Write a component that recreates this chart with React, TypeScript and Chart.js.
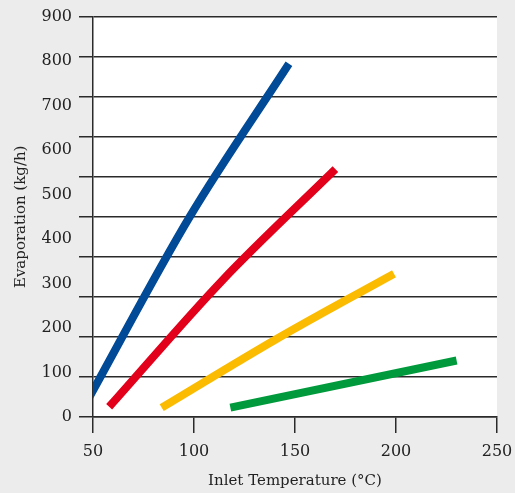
import React, { useEffect, useRef } from 'react';
import { Chart, registerables } from 'chart.js';

Chart.register(...registerables);

// Inlet temperature (°C) / evaporation (kg/h) per curve
const blueTemp = [47, 98, 147];
const blueEvap = [35, 451, 794];
const redTemp = [58, 114, 170];
const redEvap = [23, 307, 557];
const yellowTemp = [84, 141.5, 199];
const yellowEvap = [21, 177, 322];
const greenTemp = [118, 230];
const greenEvap = [21, 127];

const xTickValues = [50, 100, 150, 200, 250];
const yTickValues = [0, 100, 200, 300, 400, 500, 600, 700, 800, 900];
const gridValues = [0, 90, 180, 270, 360, 450, 540, 630, 720, 810, 900];

const xTitle = 'Inlet Temperature (°C)';
const yTitle = 'Evaporation (kg/h)';

const FONT = "'DejaVu Serif', 'Liberation Serif', serif";
const INK = '#222222';
const LINE = '#2a2a2a';

const pts = (xs: number[], ys: number[]) => xs.map((x, i) => ({ x, y: ys[i] }));

const bgPlugin = {
  id: 'bgPlugin',
  beforeDraw(chart: any) {
    const { ctx, chartArea: a, width, height } = chart;
    ctx.save();
    ctx.fillStyle = '#ebeceb';
    ctx.fillRect(0, 0, width, height);
    ctx.fillStyle = '#ffffff';
    ctx.fillRect(a.left, a.top, a.right - a.left, a.bottom - a.top);
    ctx.restore();
  },
};

export default function App() {
  const ref = useRef<HTMLCanvasElement | null>(null);

  useEffect(() => {
    document.body.style.margin = '0';
    if (!ref.current) return;
    const mk = (label: string, xs: number[], ys: number[], color: string) => ({
      label,
      data: pts(xs, ys),
      borderColor: color,
      backgroundColor: color,
      borderWidth: 8,
      borderCapStyle: 'butt' as const,
      pointRadius: 0,
      cubicInterpolationMode: 'monotone' as const,
      clip: 0,
      yAxisID: 'y',
      xAxisID: 'x',
    });
    const chart = new Chart(ref.current, {
      type: 'line',
      data: {
        datasets: [
          mk('blue', blueTemp, blueEvap, '#004a97'),
          mk('red', redTemp, redEvap, '#e2001a'),
          mk('yellow', yellowTemp, yellowEvap, '#fbbb00'),
          mk('green', greenTemp, greenEvap, '#009a3d'),
        ],
      },
      options: {
        responsive: false,
        animation: false,
        devicePixelRatio: 1,
        layout: { padding: { top: 16, right: 18, left: 0, bottom: 0 } },
        plugins: { legend: { display: false }, tooltip: { enabled: false } },
        scales: {
          x: {
            type: 'linear',
            min: 50,
            max: 250,
            afterBuildTicks: (s: any) => {
              s.ticks = xTickValues.map((v) => ({ value: v }));
            },
            afterFit: (s: any) => {
              s.height = 76;
              s.paddingLeft = 0;
              s.paddingRight = 0;
            },
            grid: {
              drawOnChartArea: false,
              drawTicks: true,
              tickLength: 16,
              color: LINE,
              tickColor: LINE,
              lineWidth: 1.5,
            },
            border: { display: true, color: LINE, width: 1.5 },
            ticks: {
              padding: 9,
              color: INK,
              font: { family: FONT, size: 16 },
              maxRotation: 0,
            },
            title: {
              display: true,
              text: xTitle,
              color: INK,
              font: { family: FONT, size: 15 },
              padding: { top: 0, bottom: 3 },
            },
          },
          yGrid: {
            type: 'linear',
            position: 'left',
            weight: 0,
            min: 0,
            max: 900,
            afterBuildTicks: (s: any) => {
              s.ticks = gridValues.map((v) => ({ value: v }));
            },
            afterFit: (s: any) => {
              s.width = 14;
            },
            ticks: { display: false },
            grid: {
              drawTicks: true,
              tickLength: 14,
              color: LINE,
              tickColor: LINE,
              lineWidth: 1.5,
            },
            border: { display: true, color: LINE, width: 1.5 },
          },
          y: {
            type: 'linear',
            position: 'left',
            weight: 1,
            min: 0,
            max: 900,
            afterBuildTicks: (s: any) => {
              s.ticks = yTickValues.map((v) => ({ value: v }));
            },
            afterFit: (s: any) => {
              s.width = 79;
            },
            grid: { display: false, drawTicks: false },
            border: { display: false },
            ticks: {
              padding: 7,
              color: INK,
              font: { family: FONT, size: 16 },
            },
            title: {
              display: true,
              text: yTitle,
              color: INK,
              font: { family: FONT, size: 15 },
              padding: { top: 12, bottom: 0 },
            },
          },
        },
      },
      plugins: [bgPlugin],
    });
    return () => chart.destroy();
  }, []);

  return (
    <canvas
      ref={ref}
      width={515}
      height={493}
      style={{ display: 'block', width: 515, height: 493 }}
    />
  );
}
